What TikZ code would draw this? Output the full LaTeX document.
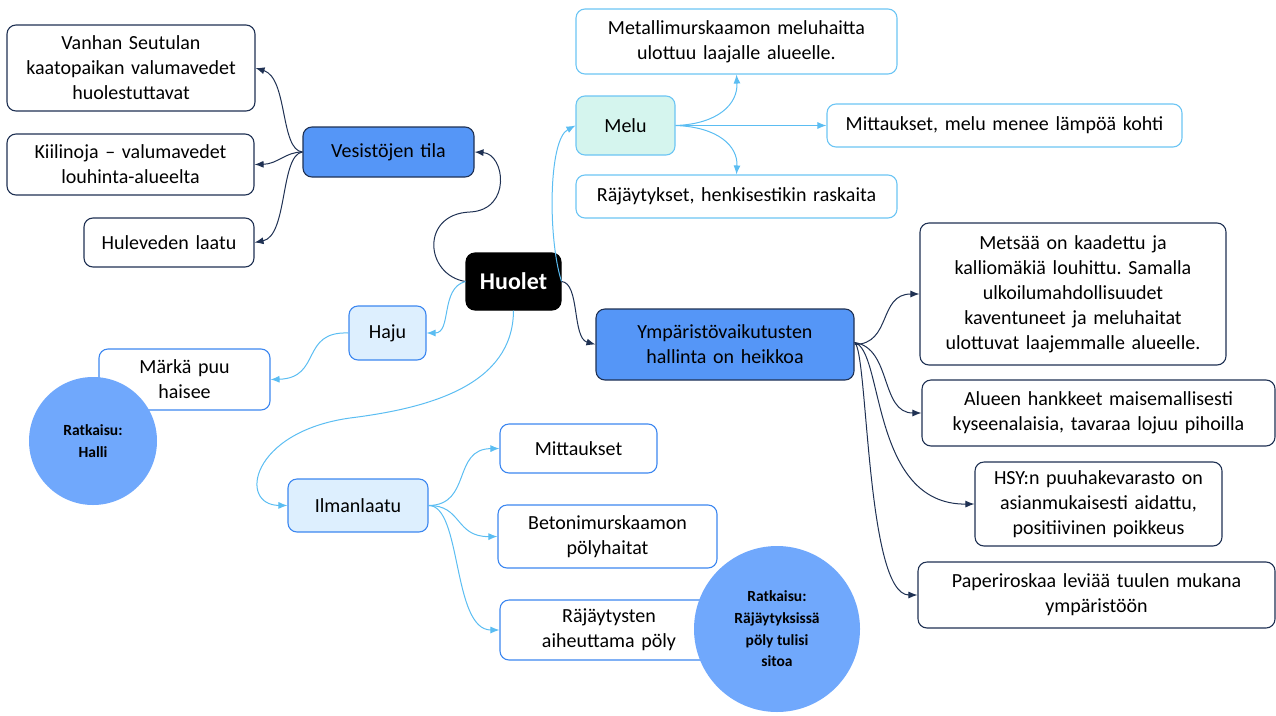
\documentclass[tikz,border=0pt]{standalone}
\usepackage{fontspec}
\setmainfont{Carlito}
\usetikzlibrary{arrows.meta}
\frenchspacing
\definecolor{navy}{HTML}{1F3153}
\definecolor{bluefill}{HTML}{5596F7}
\definecolor{circfill}{HTML}{70A8FC}
\definecolor{lightline}{HTML}{5BBDF2}
\definecolor{blueborder}{HTML}{3C87F0}
\definecolor{hajufill}{HTML}{DDEFFE}
\definecolor{melufill}{HTML}{D5F5EE}
\definecolor{meluborder}{HTML}{6CC5F4}
\tikzset{
  box/.style={draw, rounded corners=9pt, line width=1.1pt, align=center, inner sep=0pt, fill=white, font=\fontsize{20}{25}\selectfont},
  darkbox/.style={box, draw=navy},
  topicbox/.style={box, draw=navy, fill=bluefill},
  lbbox/.style={box, draw=meluborder},
  bbbox/.style={box, draw=blueborder},
  subbox/.style={box, draw=blueborder, fill=hajufill},
  melubox/.style={box, draw=meluborder, fill=melufill},
  solution/.style={circle, fill=circfill, draw=none, align=center, inner sep=0pt, font=\bfseries\fontsize{15.5}{21.7}\selectfont},
  darkarr/.style={draw=navy, line width=1pt, -{Latex[length=9pt,width=7pt]}},
  lightarr/.style={draw=lightline, line width=1pt, -{Latex[length=9pt,width=7pt]}},
}
\begin{document}
\begin{tikzpicture}[x=1pt,y=-1pt]
\useasboundingbox (0,0) rectangle (1276,715);
% left branch
\node[darkbox, text width=248pt, minimum height=86pt] (vanhan) at (131,68) {Vanhan Seutulan\\kaatopaikan valumavedet\\huolestuttavat};
\node[darkbox, text width=247pt, minimum height=61pt] (kiili) at (130.5,164.5) {Kiilinoja -- valumavedet\\louhinta-alueelta};
\node[darkbox, text width=170pt, minimum height=49pt] (hule) at (169,242.5) {Huleveden laatu};
\node[topicbox, text width=171pt, minimum height=50pt] (vesi) at (388.5,152) {Vesistöjen tila};
% center
\node[box, draw=black, fill=black, text=white, text width=95pt, minimum height=57pt, font=\bfseries\fontsize{24}{28}\selectfont] (huolet) at (513.5,281.5) {Huolet};
% melu
\node[melubox, text width=99pt, minimum height=59pt] (melu) at (625.5,125.5) {Melu};
\node[lbbox, text width=321pt, minimum height=65pt] (metal) at (736.5,41.5) {Metallimurskaamon meluhaitta\\ulottuu laajalle alueelle.};
\node[lbbox, text width=355pt, minimum height=43pt] (mitmelu) at (1004.5,125.5) {Mittaukset, melu menee lämpöä kohti};
\node[lbbox, text width=321pt, minimum height=43pt] (rajh) at (736.5,196.5) {Räjäytykset, henkisestikin raskaita};
% ymparisto
\node[topicbox, text width=258pt, minimum height=71pt] (ymp) at (725,344.5) {Ympäristövaikutusten\\hallinta on heikkoa};
\node[darkbox, text width=306pt, minimum height=142pt] (metsa) at (1073,294) {Metsää on kaadettu ja\\kalliomäkiä louhittu. Samalla\\ulkoilumahdollisuudet\\kaventuneet ja meluhaitat\\ulottuvat laajemmalle alueelle.};
\node[darkbox, text width=353pt, minimum height=66pt] (alueen) at (1098.5,413) {Alueen hankkeet maisemallisesti\\kyseenalaisia, tavaraa lojuu pihoilla};
\node[darkbox, text width=247pt, minimum height=84pt] (hsy) at (1098.5,504) {HSY:n puuhakevarasto on\\asianmukaisesti aidattu,\\positiivinen poikkeus};
\node[darkbox, text width=357pt, minimum height=66pt] (paperi) at (1096.5,595) {Paperiroskaa leviää tuulen mukana\\ympäristöön};
% haju
\node[subbox, text width=77pt, minimum height=54pt] (haju) at (387.5,333) {Haju};
\node[bbbox, text width=171pt, minimum height=61pt] (marka) at (184.5,379.5) {Märkä puu\\haisee};
% ilmanlaatu
\node[subbox, text width=140pt, minimum height=53pt] (ilman) at (358,505.5) {Ilmanlaatu};
\node[bbbox, text width=157pt, minimum height=49pt] (mitt) at (578.5,448.5) {Mittaukset};
\node[bbbox, text width=219pt, minimum height=63pt] (betoni) at (607.5,536.5) {Betonimurskaamon\\pölyhaitat};
\node[bbbox, text width=218pt, minimum height=60pt] (rajp) at (609,630) {Räjäytysten\\aiheuttama pöly};
% connectors
\draw[darkarr] (huolet.west) .. controls (425,275) and (420,214) .. (470,212) .. controls (512,210) and (505,154) .. (vesi.east);
\draw[darkarr] (vesi.west) .. controls (280,150) and (288,78) .. (vanhan.east);
\draw[darkarr] (vesi.west) .. controls (285,152) and (278,164) .. (kiili.east);
\draw[darkarr] (vesi.west) .. controls (280,155) and (288,236) .. (hule.east);
\draw[lightarr] (huolet.east) .. controls (548,240) and (548,140) .. (melu.west);
\draw[lightarr] (melu.east) .. controls (718,124) and (738,104) .. (metal.south);
\draw[lightarr] (melu.east) -- (mitmelu.west);
\draw[lightarr] (melu.east) .. controls (718,127) and (738,146) .. (rajh.north);
\draw[darkarr] (huolet.east) .. controls (580,283) and (572,338) .. (ymp.west);
\draw[darkarr] (ymp.east) .. controls (892,344) and (878,294) .. (metsa.west);
\draw[darkarr] ([yshift=2pt]ymp.east) .. controls (892,348) and (880,413) .. (alueen.west);
\draw[darkarr] ([yshift=2pt]ymp.east) .. controls (884,350) and (870,505) .. (hsy.west);
\draw[darkarr] ([yshift=2pt]ymp.east) .. controls (868,350) and (866,595) .. (paperi.west);
\draw[lightarr] (huolet.west) .. controls (440,288) and (452,333) .. (haju.east);
\draw[lightarr] (haju.west) .. controls (300,331) and (322,378) .. (marka.east);
\draw[lightarr] (huolet.south) .. controls (513,385) and (430,408) .. (350,418) .. controls (250,432) and (238,505) .. (ilman.west);
\draw[lightarr] (ilman.east) .. controls (472,505) and (452,449) .. (mitt.west);
\draw[lightarr] (ilman.east) .. controls (462,505) and (455,537) .. (betoni.west);
\draw[lightarr] (ilman.east) .. controls (462,505) and (452,630) .. (rajp.west);
% solutions (on top)
\node[solution, minimum size=128pt] (sol1) at (93,441) {Ratkaisu:\\Halli};
\node[solution, minimum size=166pt] (sol2) at (777,629) {Ratkaisu:\\Räjäytyksissä\\pöly tulisi\\sitoa};
\end{tikzpicture}
\end{document}
